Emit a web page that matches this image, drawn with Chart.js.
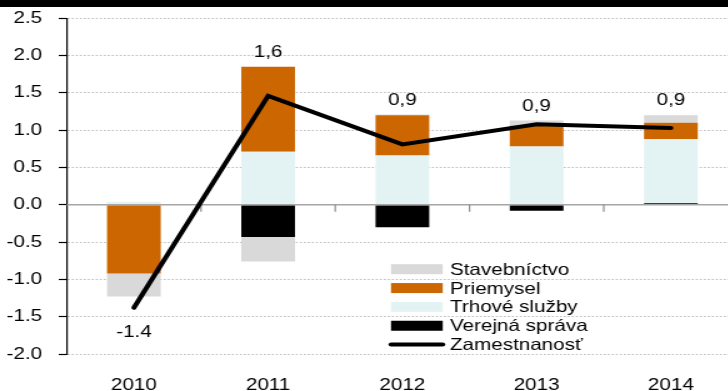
<!DOCTYPE html>
<html><head><meta charset="utf-8">
<script src="https://cdn.jsdelivr.net/npm/chart.js@4"></script>
<style>
html,body{margin:0;padding:0;background:#fff;overflow:hidden;width:728px;height:391px;}
#topbar{position:absolute;left:0;top:0;width:728px;height:7px;background:#000;z-index:2;}
#wrap{position:absolute;left:0;top:0;width:592px;height:400px;transform:scaleX(1.25);transform-origin:0 0;}
</style></head><body>
<div id="topbar"></div>
<div id="wrap"><canvas id="c" width="592" height="400"></canvas></div>
<script>
// ---- data ----
const categories = ['2010', '2011', '2012', '2013', '2014'];
const stavebnictvo = [-0.31, -0.33, 0.01, 0.07, 0.10];
const priemysel = [-0.92, 1.14, 0.54, 0.28, 0.22];
const trhoveSluzby = [0.04, 0.71, 0.66, 0.78, 0.86];
const verejnaSprava = [0.00, -0.43, -0.30, -0.08, 0.02];
const zamestnanost = [-1.38, 1.46, 0.81, 1.08, 1.03];
const pointLabels = ['-1.4', '1,6', '0,9', '0,9', '0,9'];
const legendOrder = ['Stavebníctvo', 'Priemysel', 'Trhové služby', 'Verejná správa', 'Zamestnanosť'];

const FONT = "'Liberation Sans', Arial, sans-serif";
const FS = 16.5;

const overlay = {
  id: 'overlay',
  beforeDatasetDraw(chart, args) {
    if (chart.data.datasets[args.index].type !== 'line') return;
    const {ctx, chartArea, scales: {x, y}} = chart;
    const y0 = y.getPixelForValue(0);
    ctx.save();
    ctx.strokeStyle = '#a6a6a6';
    ctx.lineWidth = 1.5;
    ctx.beginPath();
    ctx.moveTo(chartArea.left, y0);
    ctx.lineTo(chartArea.right, y0);
    ctx.stroke();
    ctx.strokeStyle = '#8c8c8c';
    ctx.lineWidth = 1.2;
    for (let i = 0; i < categories.length; i++) {
      const xb = x.getPixelForValue(i + 0.5);
      ctx.beginPath();
      ctx.moveTo(xb, y0);
      ctx.lineTo(xb, y0 + 7);
      ctx.stroke();
    }
    ctx.restore();
  },
  afterDatasetsDraw(chart) {
    const {ctx, scales: {x, y}} = chart;
    const bars = chart.data.datasets.filter(d => d.type === 'bar');
    ctx.save();
    ctx.fillStyle = '#000';
    ctx.font = FS + 'px ' + FONT;
    ctx.textAlign = 'center';
    ctx.textBaseline = 'alphabetic';
    categories.forEach((c, i) => {
      let pos = 0, neg = 0;
      bars.forEach(d => { const v = d.data[i]; if (v > 0) pos += v; else neg += v; });
      const px = x.getPixelForValue(i);
      if (zamestnanost[i] >= 0) {
        ctx.fillText(pointLabels[i], px, y.getPixelForValue(Math.max(pos, zamestnanost[i])) - 10);
      } else {
        ctx.fillText(pointLabels[i], px, y.getPixelForValue(Math.min(neg, zamestnanost[i])) + 29);
      }
    });
    // legend
    const lx = 312.8, lw = 41.4, tx = 360, ly0 = 269.2, step = 18.85;
    ctx.textAlign = 'left';
    ctx.textBaseline = 'middle';
    legendOrder.forEach((name, k) => {
      const d = chart.data.datasets.find(ds => ds.label === name);
      const cy = ly0 + k * step;
      if (d.type === 'line') {
        ctx.strokeStyle = d.borderColor;
        ctx.lineWidth = 4;
        ctx.lineCap = 'round';
        ctx.beginPath();
        ctx.moveTo(lx, cy);
        ctx.lineTo(lx + lw, cy);
        ctx.stroke();
      } else {
        ctx.fillStyle = d.backgroundColor;
        ctx.fillRect(lx, cy - 5, lw, 10);
      }
      ctx.fillStyle = '#000';
      ctx.fillText(name, tx, cy + 1);
    });
    ctx.restore();
  }
};

new Chart(document.getElementById('c'), {
  data: {
    labels: categories,
    datasets: [
      {type: 'line', label: 'Zamestnanosť', data: zamestnanost, borderColor: '#000', backgroundColor: '#000',
        borderWidth: 4, pointRadius: 0, stack: 'line', order: -1, borderCapStyle: 'round', tension: 0},
      {type: 'bar', label: 'Verejná správa', data: verejnaSprava, backgroundColor: '#000000', stack: 's'},
      {type: 'bar', label: 'Trhové služby', data: trhoveSluzby, backgroundColor: '#e3f3f3', stack: 's'},
      {type: 'bar', label: 'Priemysel', data: priemysel, backgroundColor: '#cc6600', stack: 's'},
      {type: 'bar', label: 'Stavebníctvo', data: stavebnictvo, backgroundColor: '#d9d9d9', stack: 's'}
    ]
  },
  options: {
    responsive: false,
    animation: false,
    events: [],
    datasets: {bar: {categoryPercentage: 1, barPercentage: 0.4, borderWidth: 0}},
    layout: {padding: {left: 0, right: 1.6, top: 18.3, bottom: 0}},
    plugins: {legend: {display: false}, tooltip: {enabled: false}},
    scales: {
      x: {
        stacked: true,
        offset: true,
        grid: {display: false, drawTicks: false},
        border: {display: false},
        ticks: {color: '#000', font: {family: FONT, size: FS}, padding: 22, maxRotation: 0},
        afterFit(s) { s.height = 46; s.paddingLeft = 0; s.paddingRight = 0; }
      },
      y: {
        stacked: true,
        min: -2, max: 2.5,
        ticks: {stepSize: 0.5, color: '#000', font: {family: FONT, size: FS}, padding: 13.2,
          callback: v => Number(v).toFixed(1)},
        grid: {
          color: c => (c.tick && Math.abs(c.tick.value) < 1e-9) ? 'rgba(0,0,0,0)' : '#bfbfbf',
          lineWidth: 1, tickColor: '#000', tickLength: 6.4, tickWidth: 1.2, tickBorderDash: []
        },
        border: {display: true, color: '#000', width: 1.2, dash: [1.6, 1.6]},
        afterFit(s) { s.width = 53.4; s.paddingTop = 0; s.paddingBottom = 0; }
      }
    }
  },
  plugins: [overlay]
});
</script>
</body></html>
